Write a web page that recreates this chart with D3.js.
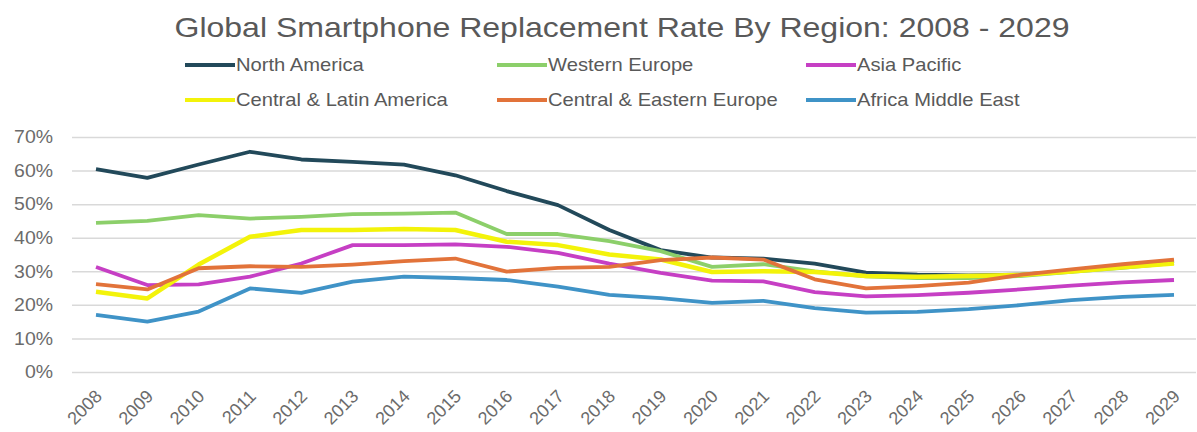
<!DOCTYPE html>
<html>
<head>
<meta charset="utf-8">
<script src="https://cdn.jsdelivr.net/npm/d3@7"></script>
<style>
  html, body { margin: 0; padding: 0; background: #ffffff; }
  svg { display: block; font-family: "Liberation Sans", Arial, sans-serif; }
</style>
</head>
<body>
<svg id="chart" width="1197" height="432"></svg>
<script>
// Replacement rate (%) per region, 2008 - 2029
const years = ["2008","2009","2010","2011","2012","2013","2014","2015","2016","2017","2018",
               "2019","2020","2021","2022","2023","2024","2025","2026","2027","2028","2029"];

const northAmerica        = [60.4, 57.8, 61.8, 65.6, 63.3, 62.6, 61.8, 58.6, 53.9, 49.7, 42.3, 36.3, 34.1, 33.8, 32.3, 29.6, 29.0, 28.8, 29.0, 30.0, 31.5, 33.0];
const westernEurope       = [44.4, 45.0, 46.7, 45.7, 46.2, 47.0, 47.2, 47.5, 41.1, 41.1, 39.0, 36.0, 31.3, 32.1, 30.0, 28.5, 28.0, 28.0, 28.6, 29.8, 31.0, 32.4];
const asiaPacific         = [31.3, 25.9, 26.1, 28.4, 32.3, 37.8, 37.8, 38.0, 37.3, 35.5, 32.3, 29.5, 27.2, 27.0, 23.8, 22.5, 22.9, 23.6, 24.6, 25.7, 26.7, 27.4];
const centralLatinAmerica = [23.9, 21.9, 32.0, 40.3, 42.3, 42.3, 42.6, 42.3, 38.8, 37.8, 35.0, 33.5, 29.8, 30.0, 29.8, 28.6, 28.4, 28.6, 28.9, 29.9, 31.2, 32.3];
const centralEasternEurope= [26.2, 24.6, 30.9, 31.5, 31.3, 32.0, 33.0, 33.8, 29.9, 31.0, 31.3, 33.3, 34.1, 33.5, 27.6, 24.9, 25.6, 26.6, 28.9, 30.6, 32.1, 33.5];
const africaMiddleEast    = [17.0, 15.0, 18.0, 24.9, 23.6, 26.9, 28.4, 28.0, 27.4, 25.4, 23.0, 22.0, 20.6, 21.2, 19.0, 17.7, 17.9, 18.7, 19.9, 21.4, 22.4, 23.0];

const seriesNames  = ["North America", "Western Europe", "Asia Pacific",
                      "Central & Latin America", "Central & Eastern Europe", "Africa Middle East"];
const seriesValues = [northAmerica, westernEurope, asiaPacific,
                      centralLatinAmerica, centralEasternEurope, africaMiddleEast];
const seriesColors = ["#22495a", "#8ccf6a", "#c63fc4", "#f3f30a", "#e2733a", "#3f93c7"];

const yTicks = [0, 10, 20, 30, 40, 50, 60, 70];
const titleText = "Global Smartphone Replacement Rate By Region: 2008 - 2029";

const svg = d3.select("#chart");
const textColor = "#595959";
const axisTextColor = "#6b6b6b";

// plot area
const plotLeft = 72, plotRight = 1196, plotTop = 137, plotBottom = 372;

const x = d3.scalePoint().domain(years).range([96, 1174]);
const y = d3.scaleLinear().domain([0, 70]).range([plotBottom, plotTop]);

// title
svg.append("text")
  .attr("x", 622).attr("y", 37)
  .attr("text-anchor", "middle")
  .attr("fill", textColor)
  .attr("font-size", 28)
  .attr("textLength", 895)
  .attr("lengthAdjust", "spacingAndGlyphs")
  .text(titleText);

// gridlines + y labels
const yAxis = d3.axisLeft(y)
  .tickValues(yTicks)
  .tickSize(-(plotRight - plotLeft))
  .tickPadding(19)
  .tickFormat(d => d + "%");

const gy = svg.append("g")
  .attr("transform", `translate(${plotLeft},0)`)
  .call(yAxis);
gy.select(".domain").remove();
gy.selectAll(".tick line").attr("stroke", "#d9d9d9").attr("stroke-width", 1.5);
gy.selectAll(".tick text")
  .attr("fill", axisTextColor)
  .attr("font-size", 18)
  .attr("font-family", "Liberation Sans, Arial, sans-serif")
  .each(function () {
    const w = this.getComputedTextLength();
    d3.select(this).attr("textLength", w * 1.08).attr("lengthAdjust", "spacingAndGlyphs");
  });

// x labels, rotated
const xAxis = d3.axisBottom(x).tickSize(0).tickPadding(0);
const gx = svg.append("g")
  .attr("transform", `translate(0,${plotBottom})`)
  .call(xAxis);
gx.select(".domain").remove();
gx.selectAll(".tick text")
  .attr("fill", axisTextColor)
  .attr("font-size", 18)
  .attr("font-family", "Liberation Sans, Arial, sans-serif")
  .attr("text-anchor", "end")
  .attr("dy", "0.35em")
  .attr("y", 0)
  .attr("transform", "translate(2,21) rotate(-45)");

// series lines
const line = d3.line()
  .x((d, i) => x(years[i]))
  .y(d => y(d));

svg.append("g")
  .selectAll("path")
  .data(seriesValues)
  .join("path")
  .attr("d", d => line(d))
  .attr("fill", "none")
  .attr("stroke", (d, i) => seriesColors[i])
  .attr("stroke-width", (d, i) => i === 3 ? 4.5 : 3.8)
  .attr("stroke-linejoin", "round");

// legend
const legendPos = [
  { x: 185, y: 65 }, { x: 497, y: 65 }, { x: 806, y: 65 },
  { x: 185, y: 100 }, { x: 497, y: 100 }, { x: 806, y: 100 }
];
const legend = svg.append("g")
  .selectAll("g")
  .data(seriesNames)
  .join("g")
  .attr("transform", (d, i) => `translate(${legendPos[i].x},${legendPos[i].y})`);

legend.append("line")
  .attr("x1", 0).attr("x2", 50)
  .attr("y1", 0).attr("y2", 0)
  .attr("stroke", (d, i) => seriesColors[i])
  .attr("stroke-width", 4);

legend.append("text")
  .attr("x", 51)
  .attr("y", 0)
  .attr("dy", "0.35em")
  .attr("fill", textColor)
  .attr("font-size", 18.5)
  .text(d => d)
  .each(function () {
    const w = this.getComputedTextLength();
    d3.select(this).attr("textLength", w * 1.09).attr("lengthAdjust", "spacingAndGlyphs");
  });
</script>
</body>
</html>
